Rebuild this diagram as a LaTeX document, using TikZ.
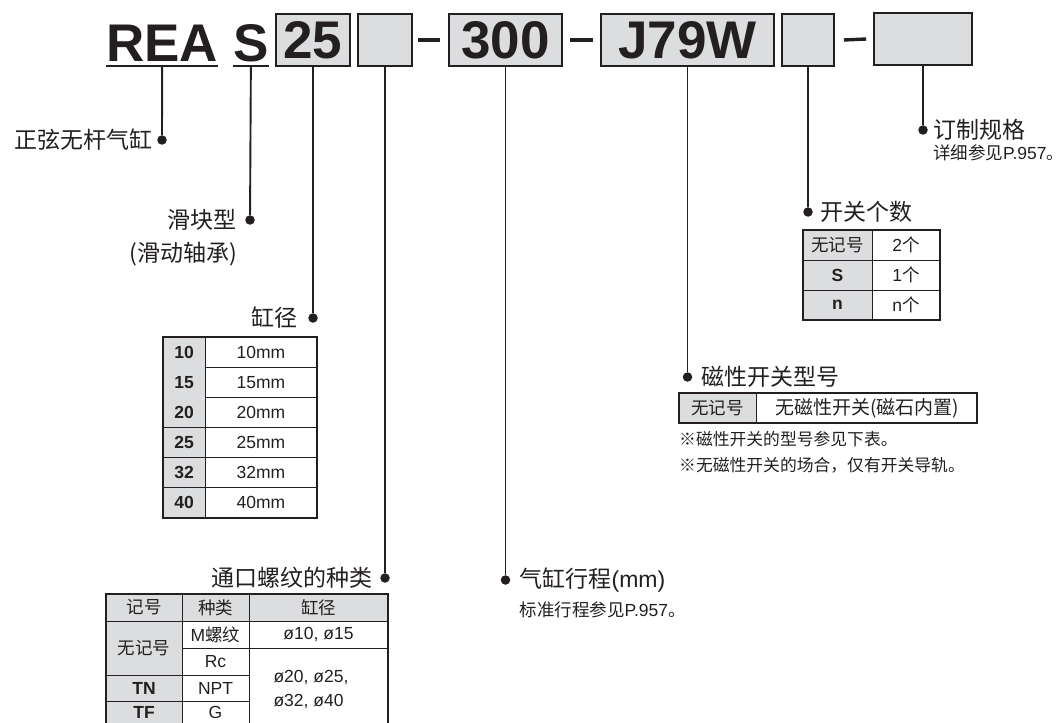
\documentclass[tikz,border=0pt]{standalone}
\usepackage{fontspec}
\setmainfont{Liberation Sans}
\newfontfamily\cjk{Noto Sans CJK SC}
\usetikzlibrary{positioning}
\definecolor{ink}{HTML}{231F20}
\definecolor{cell}{HTML}{DCDDDE}
\newcommand{\zh}[1]{{\cjk #1}}

\begin{document}
\begin{tikzpicture}[x=1pt,y=-1pt]
 \tikzset{codebox/.style = {draw=ink,fill=cell,line width=1.6pt,inner sep=0pt,minimum height=52pt,text=ink,font=\fontsize{53}{53}\bfseries}}
 \tikzset{code/.style = {inner sep=0pt,text=ink,font=\fontsize{53}{53}\bfseries,anchor=base west}}
 \tikzset{lead/.style = {draw=ink,line width=1.9pt}}
 \tikzset{minus/.style = {draw=ink,line width=3.4pt}}
 \tikzset{dot/.style = {circle,fill=ink,inner sep=0pt,minimum size=9.5pt}}
 \tikzset{head/.style = {inner sep=0pt,text=ink,font=\fontsize{23}{26}\cjk}}
 \tikzset{note/.style = {inner sep=0pt,text=ink,font=\fontsize{17.5}{20}\selectfont,anchor=west}}
 \tikzset{cellt/.style = {inner sep=0pt,text=ink,font=\fontsize{17.5}{24}\selectfont}}
 \tikzset{grid/.style = {draw=ink,line width=0.8pt}}
 \tikzset{frame/.style = {draw=ink,line width=1.3pt}}
 \tikzset{topline/.style = {draw=ink,line width=2.4pt}}
 \useasboundingbox (0,0) rectangle (1064,722);
 \clip (0,0) rectangle (1064,722);

 % model code
 \node[code] (rea) at (106,62) {REA};
 \node[code] (slide) at (233,62) {S};
 \node[codebox,minimum width=74pt] (bbore) at (313,40) {25};
 \node[codebox,minimum width=54pt] (bport) at (385,40) {};
 \node[codebox,minimum width=113pt] (bstroke) at (505.5,40) {300};
 \node[codebox,minimum width=173pt] (bsw) at (687.5,40) {J79W};
 \node[codebox,minimum width=52pt] (bnum) at (808,40) {};
 \node[codebox,minimum width=98pt] (bopt) at (923,39) {};
 \draw[lead] ([yshift=-4pt]rea.base west) -- ([yshift=-4pt]rea.base east);
 \draw[lead] ([yshift=-4pt]slide.base west) -- ([yshift=-4pt]slide.base east);
 \draw[minus] ([xshift=5pt]bport.east) -- ([xshift=-8pt]bstroke.west);
 \draw[minus] ([xshift=7pt]bstroke.east) -- ([xshift=-7pt]bsw.west);
 \draw[minus] ([xshift=9pt]bnum.east) -- ([xshift=-7pt]bopt.west);

 % dots
 \node[dot] (drea) at (162,140) {};
 \node[dot] (dslide) at (250,220) {};
 \node[dot] (dbore) at (313,318) {};
 \node[dot] (dport) at (385,578) {};
 \node[dot] (dstroke) at (505.5,580) {};
 \node[dot] (dsw) at (687.5,377) {};
 \node[dot] (dnum) at (808,212) {};
 \node[dot] (dopt) at (923,130) {};

 % leads
 \draw[lead] ([yshift=-4pt]rea.base) -- (drea);
 \draw[lead] ([yshift=-4pt]slide.base) -- (dslide);
 \draw[lead] (bbore) -- (dbore);
 \draw[lead] (bport) -- (dport);
 \draw[lead] (bstroke) -- (dstroke);
 \draw[lead] (bsw) -- (dsw);
 \draw[lead] (bnum) -- (dnum);
 \draw[lead] (bopt) -- (dopt);

 % labels
 \node[head,left=4pt of drea] (lrea) {正弦无杆气缸};
 \node[head,left=8pt of dslide] (lslide) {滑块型};
 \node[head,anchor=base east] (lslide2) at ([yshift=-33pt]lslide.base east) {(滑动轴承)};
 \node[head,left=10pt of dbore] (lbore) {缸径};
 \node[head,left=7pt of dport] (lport) {通口螺纹的种类};
 \node[head,right=9pt of dstroke] (lstroke) {气缸行程{\rmfamily(mm)}};
 \node[note] (nstroke) at ([yshift=-30pt]lstroke.west) {\zh{标准行程参见}P.957\zh{。}};
 \node[head,right=9pt of dsw] (lsw) {磁性开关型号};
 \node[head,right=7pt of dnum] (lnum) {开关个数};
 \node[head,right=5pt of dopt] (lopt) {订制规格};
 \node[note] (nopt) at ([yshift=-23pt]lopt.west) {\zh{详细参见}P.957\zh{。}};

 % bore table
 \foreach \v [count=\i] in {10,15,20,25,32,40} {
  \fill[cell] (163,{337+30.17*(\i-1)}) rectangle (205,{337+30.17*\i});
  \node[cellt] (k\v) at (184,{352+30.17*(\i-1)}) {\bfseries\v};
  \node[cellt] (m\v) at (261,{352+30.17*(\i-1)}) {\v mm};
  \draw[grid] (163,{337+30.17*\i}) -- (317,{337+30.17*\i});
 }
 \draw[grid] (205,337) -- (205,518);
 \draw[frame] (163,337) rectangle (317,518);
 \draw[topline] (163,337) -- (317,337);

 % port table
 \fill[cell] (106,594) rectangle (388,621);
 \fill[cell] (106,621) rectangle (182,730);
 \draw[grid] (106,621) -- (388,621);
 \draw[grid] (182,594) -- (182,730);
 \draw[grid] (249,594) -- (249,730);
 \draw[grid] (182,648) -- (388,648);
 \draw[grid] (106,675) -- (249,675);
 \draw[grid] (106,701) -- (249,701);
 \draw[frame] (106,730) -- (106,594) -- (388,594) -- (388,730);
 \draw[topline] (106,594) -- (388,594);
 \node[cellt] (hcode) at (144,607.5) {\zh{记号}};
 \node[cellt] (htype) at (215.5,607.5) {\zh{种类}};
 \node[cellt] (hbore) at (318.5,607.5) {\zh{缸径}};
 \node[cellt] (pnone) at (144,648) {\zh{无记号}};
 \node[cellt] (pm) at (215.5,634.5) {M\zh{螺纹}};
 \node[cellt] (prc) at (215.5,661.5) {Rc};
 \node[cellt] (ptn) at (144,688) {\bfseries TN};
 \node[cellt] (pnpt) at (215.5,688) {NPT};
 \node[cellt] (ptf) at (144,712.5) {\bfseries TF};
 \node[cellt] (pg) at (215.5,712.5) {G};
 \node[cellt] (psmall) at (318.5,634.5) {ø10, ø15};
 \node[cellt,align=left] (plarge) at (311,690) {ø20, ø25,\\ø32, ø40};

 % switch table
 \fill[cell] (679,393) rectangle (756,423);
 \draw[grid] (756,393) -- (756,423);
 \draw[frame] (679,393) rectangle (977,423);
 \draw[topline] (679,393) -- (977,393);
 \node[cellt] (snone) at (717.5,408) {\zh{无记号}};
 \node[cellt,font=\fontsize{19}{24}\cjk] (sdesc) at (867,408) {无磁性开关(磁石内置)};
 \node[note,font=\fontsize{16.8}{20}\cjk] (n1) at (679,439) {※磁性开关的型号参见下表。};
 \node[note,font=\fontsize{16.8}{20}\cjk] (n2) at (679,465) {※无磁性开关的场合，仅有开关导轨。};

 % number table
 \fill[cell] (803,230) rectangle (872,320);
 \draw[grid] (803,260) -- (940,260);
 \draw[grid] (803,290) -- (940,290);
 \draw[grid] (872,230) -- (872,320);
 \draw[frame] (803,230) rectangle (940,320);
 \draw[topline] (803,230) -- (940,230);
 \node[cellt] (cnone) at (837.5,245) {\zh{无记号}};
 \node[cellt] (ctwo) at (906,245) {2\zh{个}};
 \node[cellt] (cs) at (837.5,275) {\bfseries S};
 \node[cellt] (cone) at (906,275) {1\zh{个}};
 \node[cellt] (cn) at (837.5,305) {\bfseries n};
 \node[cellt] (cmany) at (906,305) {n\zh{个}};
\end{tikzpicture}
\end{document}
